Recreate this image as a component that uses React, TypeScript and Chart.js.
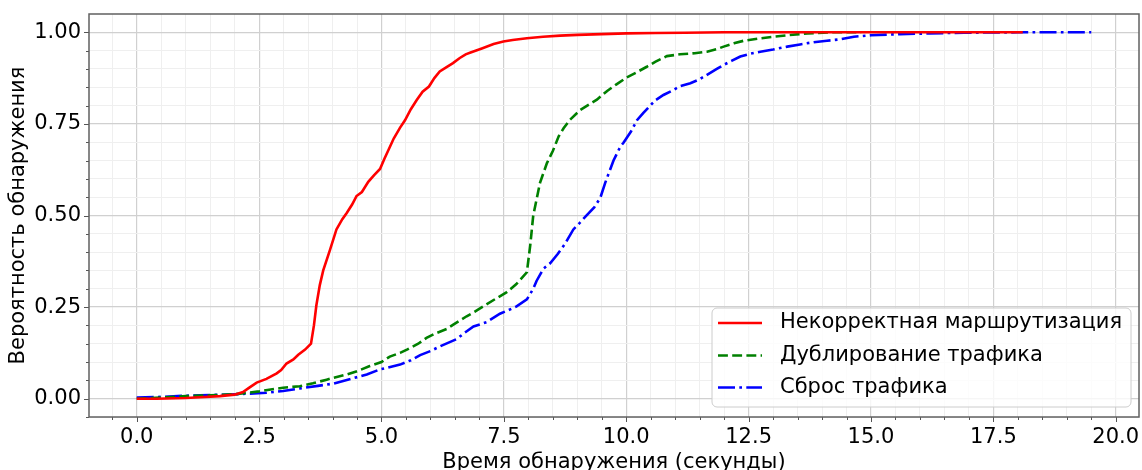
import React, { useEffect, useRef } from "react";
import { Chart, registerables } from "chart.js";

Chart.register(...registerables);

const RED_X = [0, 0.4, 1.0, 1.3, 1.7, 2.0, 2.17, 2.3, 2.45, 2.65, 2.86, 2.95, 3.06, 3.2, 3.3, 3.44, 3.56, 3.62, 3.67, 3.74, 3.81, 3.95, 4.08, 4.2, 4.29, 4.4, 4.49, 4.6, 4.73, 4.85, 4.97, 5.06, 5.14, 5.25, 5.38, 5.48, 5.6, 5.72, 5.84, 5.97, 6.08, 6.19, 6.33, 6.46, 6.6, 6.72, 6.82, 7.05, 7.29, 7.49, 7.68, 7.97, 8.3, 8.65, 9.0, 9.5, 10.0, 10.6, 11.2, 12.0, 13.0, 14.0, 15.0, 16.0, 17.0, 18.1];
const RED_Y = [0, 0, 0.002, 0.004, 0.007, 0.011, 0.018, 0.03, 0.044, 0.054, 0.069, 0.078, 0.096, 0.107, 0.12, 0.134, 0.15, 0.2, 0.255, 0.31, 0.35, 0.407, 0.462, 0.49, 0.507, 0.53, 0.553, 0.564, 0.592, 0.61, 0.627, 0.655, 0.678, 0.71, 0.74, 0.76, 0.79, 0.815, 0.838, 0.852, 0.875, 0.893, 0.905, 0.916, 0.93, 0.94, 0.945, 0.956, 0.968, 0.975, 0.979, 0.984, 0.988, 0.991, 0.993, 0.995, 0.997, 0.998, 0.999, 1, 1, 1, 1, 1, 1, 1];

const GREEN_X = [0, 0.5, 1.0, 1.5, 2.0, 2.5, 2.99, 3.33, 3.6, 3.88, 4.29, 4.5, 4.76, 5.0, 5.17, 5.38, 5.52, 5.75, 5.92, 6.1, 6.33, 6.5, 6.74, 6.9, 7.08, 7.3, 7.56, 7.75, 7.97, 8.04, 8.1, 8.24, 8.38, 8.5, 8.62, 8.72, 8.85, 9.06, 9.25, 9.4, 9.61, 9.8, 10.01, 10.2, 10.42, 10.6, 10.83, 11.1, 11.4, 11.65, 11.85, 11.99, 12.2, 12.4, 12.7, 13.01, 13.3, 13.7, 14.2, 14.8];
const GREEN_Y = [0, 0.003, 0.007, 0.009, 0.012, 0.02, 0.03, 0.034, 0.042, 0.052, 0.066, 0.075, 0.089, 0.1, 0.115, 0.125, 0.134, 0.15, 0.166, 0.178, 0.19, 0.205, 0.225, 0.237, 0.252, 0.27, 0.291, 0.312, 0.345, 0.42, 0.5, 0.59, 0.643, 0.676, 0.716, 0.738, 0.761, 0.788, 0.804, 0.816, 0.84, 0.858, 0.877, 0.89, 0.906, 0.92, 0.935, 0.94, 0.943, 0.947, 0.954, 0.961, 0.97, 0.977, 0.983, 0.988, 0.992, 0.997, 1, 1];

const BLUE_X = [0, 0.5, 1.0, 1.29, 2.0, 2.65, 2.99, 3.33, 3.7, 4.01, 4.4, 4.7, 4.97, 5.38, 5.6, 5.79, 6.0, 6.2, 6.54, 6.7, 6.88, 7.15, 7.42, 7.6, 7.76, 7.97, 8.1, 8.17, 8.31, 8.45, 8.6, 8.75, 8.92, 9.05, 9.2, 9.35, 9.47, 9.57, 9.67, 9.74, 9.88, 9.94, 10.1, 10.22, 10.35, 10.49, 10.6, 10.76, 10.97, 11.1, 11.31, 11.5, 11.65, 11.85, 11.99, 12.15, 12.33, 12.55, 12.74, 13.0, 13.29, 13.55, 13.83, 14.1, 14.38, 14.65, 15.0, 15.6, 16.2, 16.9, 18.0, 19.5];
const BLUE_Y = [0.003, 0.005, 0.008, 0.009, 0.012, 0.016, 0.021, 0.028, 0.035, 0.041, 0.055, 0.066, 0.08, 0.093, 0.105, 0.119, 0.13, 0.143, 0.163, 0.18, 0.197, 0.209, 0.232, 0.242, 0.252, 0.271, 0.3, 0.322, 0.355, 0.37, 0.395, 0.423, 0.462, 0.48, 0.502, 0.523, 0.548, 0.589, 0.625, 0.65, 0.688, 0.698, 0.73, 0.76, 0.78, 0.8, 0.815, 0.829, 0.843, 0.853, 0.861, 0.872, 0.884, 0.9, 0.911, 0.922, 0.934, 0.942, 0.947, 0.953, 0.961, 0.967, 0.973, 0.977, 0.981, 0.988, 0.992, 0.995, 0.997, 0.999, 1, 1];

const SERIES_LABELS = ["Некорректная маршрутизация", "Дублирование трафика", "Сброс трафика"];
const X_TITLE = "Время обнаружения (секунды)";
const Y_TITLE = "Вероятность обнаружения";

// tick positions: minor every 0.5 / 0.05, majors every 2.5 / 0.25
const X_TICKS = Array.from({ length: 42 }, (_, i) => (i - 1) * 0.5);
const Y_TICKS = Array.from({ length: 22 }, (_, i) => Math.round((i - 1) * 5) / 100);
const X_MAJOR_STEP = 2.5;
const Y_MAJOR_STEP = 0.25;

const FONT = "'DejaVu Sans', sans-serif";
const FONT_SIZE = 21;
const isMajor = (v: number, step: number) => Math.abs(v / step - Math.round(v / step)) < 1e-6;

const zip = (xs: number[], ys: number[]) => xs.map((x, i) => ({ x, y: ys[i] }));

const COLORS = ["#ff0000", "#008000", "#0000ff"];
const DASHES = [[], [9.9, 4.3], [17, 4.3, 2.7, 4.3]];
const LINE_W = 2.6;

const decorPlugin = {
  id: "decor",
  afterDatasetsDraw(chart: any) {
    const { ctx, chartArea: a, scales } = chart;
    const xs = scales.x;
    const ys = scales.y;
    ctx.save();
    // tick marks
    ctx.strokeStyle = "#555555";
    ctx.lineWidth = 1;
    ctx.setLineDash([]);
    X_TICKS.forEach((v) => {
      const len = isMajor(v, X_MAJOR_STEP) ? 5 : 3;
      const px = Math.round(xs.getPixelForValue(v)) + 0.5;
      ctx.beginPath();
      ctx.moveTo(px, a.bottom);
      ctx.lineTo(px, a.bottom + len);
      ctx.stroke();
    });
    Y_TICKS.forEach((v) => {
      const len = isMajor(v, Y_MAJOR_STEP) ? 5 : 3;
      const py = Math.round(ys.getPixelForValue(v)) + 0.5;
      ctx.beginPath();
      ctx.moveTo(a.left, py);
      ctx.lineTo(a.left - len, py);
      ctx.stroke();
    });
    // spines
    ctx.strokeStyle = "#606060";
    ctx.lineWidth = 1.5;
    ctx.strokeRect(a.left, a.top, a.right - a.left, a.bottom - a.top);

    // legend
    const bx = 712, by = 308, bw = 419, bh = 99, r = 5;
    ctx.beginPath();
    ctx.moveTo(bx + r, by);
    ctx.arcTo(bx + bw, by, bx + bw, by + bh, r);
    ctx.arcTo(bx + bw, by + bh, bx, by + bh, r);
    ctx.arcTo(bx, by + bh, bx, by, r);
    ctx.arcTo(bx, by, bx + bw, by, r);
    ctx.closePath();
    ctx.fillStyle = "rgba(255,255,255,0.8)";
    ctx.fill();
    ctx.strokeStyle = "#cccccc";
    ctx.lineWidth = 1;
    ctx.stroke();

    const rows = [323, 355.5, 387.5];
    chart.data.datasets.forEach((ds: any, i: number) => {
      const y = rows[i];
      ctx.beginPath();
      ctx.strokeStyle = ds.borderColor;
      ctx.lineWidth = LINE_W;
      ctx.setLineDash(ds.borderDash || []);
      ctx.moveTo(718, y);
      ctx.lineTo(762, y);
      ctx.stroke();
      ctx.setLineDash([]);
      ctx.fillStyle = "#000000";
      ctx.font = `${FONT_SIZE}px ${FONT}`;
      ctx.textAlign = "left";
      ctx.textBaseline = "middle";
      ctx.fillText(ds.label, 780, y);
    });
    ctx.restore();
  },
};

const zeroPad = (s: any) => {
  s.paddingLeft = 0;
  s.paddingRight = 0;
  s.paddingTop = 0;
  s.paddingBottom = 0;
};

export default function App() {
  const ref = useRef<HTMLCanvasElement>(null);
  useEffect(() => {
    if (!ref.current) return;
    const datasets = [
      [RED_X, RED_Y],
      [GREEN_X, GREEN_Y],
      [BLUE_X, BLUE_Y],
    ].map(([xs, ys], i) => ({
      label: SERIES_LABELS[i],
      data: zip(xs, ys),
      borderColor: COLORS[i],
      backgroundColor: COLORS[i],
      borderWidth: LINE_W,
      borderDash: DASHES[i],
      pointRadius: 0,
      tension: 0,
      fill: false,
    }));
    const chart = new Chart(ref.current, {
      type: "line",
      data: { datasets },
      plugins: [decorPlugin],
      options: {
        animation: false,
        responsive: false,
        layout: { padding: { left: 0, right: 3, top: 14, bottom: 0 } },
        plugins: { legend: { display: false }, tooltip: { enabled: false } },
        scales: {
          x: {
            type: "linear",
            min: -0.975,
            max: 20.475,
            afterBuildTicks: (s: any) => {
              s.ticks = X_TICKS.map((v) => ({ value: v }));
            },
            afterFit: (s: any) => {
              s.height = 53;
              zeroPad(s);
            },
            grid: {
              drawTicks: false,
              color: (c: any) => (isMajor(c.tick.value, X_MAJOR_STEP) ? "#d0d0d0" : "#efefef"),
              lineWidth: (c: any) => (isMajor(c.tick.value, X_MAJOR_STEP) ? 1.2 : 1),
            },
            border: { display: false },
            ticks: {
              autoSkip: false,
              maxRotation: 0,
              padding: 8,
              color: "#000000",
              font: { family: FONT, size: FONT_SIZE },
              callback: (v: any) => (isMajor(Number(v), X_MAJOR_STEP) ? Number(v).toFixed(1) : ""),
            },
            title: {
              display: true,
              text: X_TITLE,
              color: "#000000",
              font: { family: FONT, size: FONT_SIZE, lineHeight: 0.75 },
              padding: 0,
            },
          },
          y: {
            type: "linear",
            min: -0.05,
            max: 1.05,
            afterBuildTicks: (s: any) => {
              s.ticks = Y_TICKS.map((v) => ({ value: v }));
            },
            afterFit: (s: any) => {
              s.width = 89;
              zeroPad(s);
            },
            grid: {
              drawTicks: false,
              color: (c: any) => (isMajor(c.tick.value, Y_MAJOR_STEP) ? "#d0d0d0" : "#efefef"),
              lineWidth: (c: any) => (isMajor(c.tick.value, Y_MAJOR_STEP) ? 1.2 : 1),
            },
            border: { display: false },
            ticks: {
              autoSkip: false,
              padding: 8,
              color: "#000000",
              font: { family: FONT, size: FONT_SIZE },
              callback: (v: any) => (isMajor(Number(v), Y_MAJOR_STEP) ? Number(v).toFixed(2) : ""),
            },
            title: {
              display: true,
              text: Y_TITLE,
              color: "#000000",
              font: { family: FONT, size: FONT_SIZE, lineHeight: 0.9 },
              padding: { top: 9, bottom: 0 },
            },
          },
        },
      },
    } as any);
    return () => chart.destroy();
  }, []);
  return (
    <div style={{ position: "fixed", left: 0, top: 0, width: 1142, height: 470, background: "#ffffff" }}>
      <canvas ref={ref} width={1142} height={470} style={{ display: "block" }} />
    </div>
  );
}
